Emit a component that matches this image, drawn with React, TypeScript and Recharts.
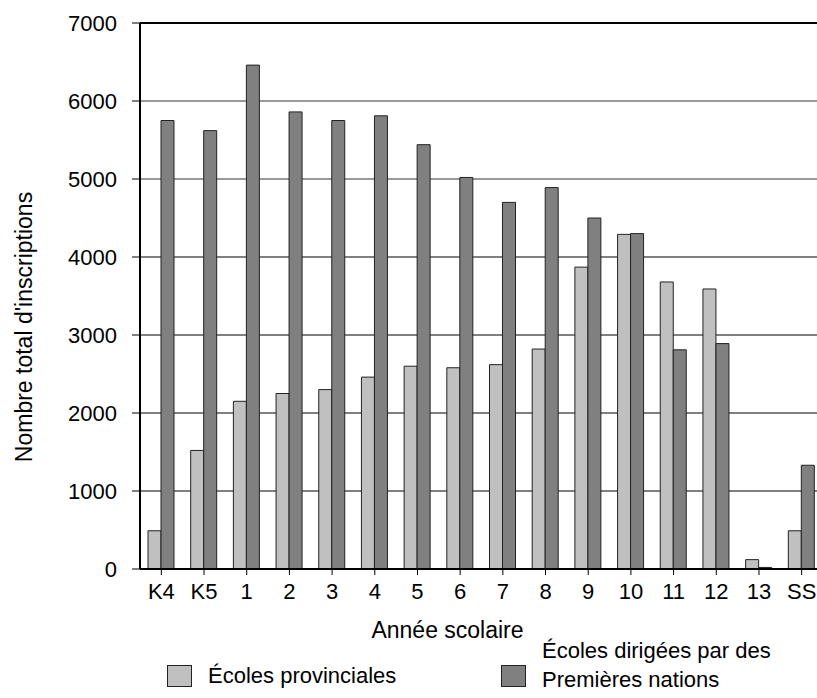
import React from 'react';
import {
  BarChart,
  Bar,
  XAxis,
  YAxis,
  CartesianGrid,
  Legend,
  Label,
} from 'recharts';

// Enrolment by grade level
const grades = ['K4', 'K5', '1', '2', '3', '4', '5', '6', '7', '8', '9', '10', '11', '12', '13', 'SS'];
const provincialSchools = [490, 1520, 2150, 2250, 2300, 2460, 2600, 2580, 2620, 2820, 3870, 4290, 3680, 3590, 120, 490];
const firstNationsSchools = [5750, 5620, 6460, 5860, 5750, 5810, 5440, 5020, 4700, 4890, 4500, 4300, 2810, 2890, 20, 1330];
const yTicks = [0, 1000, 2000, 3000, 4000, 5000, 6000, 7000];

const seriesNames = {
  provincial: 'Écoles provinciales',
  firstNations: 'Écoles dirigées par des Premières nations',
};

const data = grades.map((grade, i) => ({
  grade,
  provincial: provincialSchools[i],
  firstNations: firstNationsSchools[i],
}));

const FONT = '"Liberation Sans", Arial, Helvetica, sans-serif';
const LIGHT = '#c0c0c0';
const DARK = '#808080';

const LEGEND_TOP = 600;
const legendSlots: Record<string, any> = {
  provincial: { box: { left: 167, top: 665 }, text: { left: 208, top: 661, width: 300 } },
  firstNations: { box: { left: 501, top: 665 }, text: { left: 542, top: 636, width: 260 } },
};

const LegendContent = ({ payload }: any) => (
  <div style={{ position: 'relative', width: 817, height: 98, fontFamily: FONT, fontSize: 22, color: '#000' }}>
    {(payload || []).map((entry: any) => {
      const slot = legendSlots[entry.dataKey];
      if (!slot) return null;
      return (
        <React.Fragment key={entry.dataKey}>
          <div
            style={{
              position: 'absolute',
              left: slot.box.left,
              top: slot.box.top - LEGEND_TOP,
              width: 25,
              height: 22,
              background: entry.color,
              border: '1.5px solid #222',
              boxSizing: 'border-box',
            }}
          />
          <div
            style={{
              position: 'absolute',
              left: slot.text.left,
              top: slot.text.top - LEGEND_TOP,
              width: slot.text.width,
              lineHeight: '29px',
              whiteSpace: 'normal',
            }}
          >
            {entry.value}
          </div>
        </React.Fragment>
      );
    })}
  </div>
);

const YTitle = () => {
  const cx = 24;
  const cy = 327;
  return (
    <text
      x={cx}
      y={cy}
      transform={`rotate(-90, ${cx}, ${cy})`}
      textAnchor="middle"
      dominantBaseline="central"
      fontFamily={FONT}
      fontSize={23}
      fill="#000"
    >
      Nombre total d'inscriptions
    </text>
  );
};

const XTitle = ({ viewBox }: any) => (
  <text
    x={viewBox.x + 307.5}
    y={viewBox.y + 69}
    textAnchor="middle"
    fontFamily={FONT}
    fontSize={23}
    fill="#000"
  >
    Année scolaire
  </text>
);

export default function App() {
  return (
    <div style={{ position: 'absolute', left: 0, top: 0, width: 817, height: 698, overflow: 'hidden', background: '#fff' }}>
      <BarChart
        width={830}
        height={698}
        data={data}
        margin={{ top: 23, right: 7, bottom: 0, left: 0 }}
        barGap={0}
        barSize={13}
      >
        <CartesianGrid vertical={false} horizontalValues={[1000, 2000, 3000, 4000]} stroke="#000" strokeWidth={1} />
        <CartesianGrid vertical={false} horizontalValues={[5000, 6000]} stroke="#777" strokeWidth={1.5} />
        <CartesianGrid vertical={false} horizontalValues={[7000]} stroke="#000" strokeWidth={2} />
        <XAxis
          dataKey="grade"
          interval={0}
          height={129}
          tickSize={6}
          tickMargin={8}
          axisLine={{ stroke: '#000', strokeWidth: 2 }}
          tickLine={{ stroke: '#000', strokeWidth: 1 }}
          tick={{ fill: '#000', fontSize: 22, fontFamily: FONT }}
        >
          <Label content={<XTitle />} />
        </XAxis>
        <YAxis
          width={140}
          domain={[0, 7000]}
          ticks={yTicks}
          interval={0}
          tickSize={8}
          tickMargin={15}
          axisLine={{ stroke: '#000', strokeWidth: 2 }}
          tickLine={{ stroke: '#000', strokeWidth: 1 }}
          tick={{ fill: '#000', fontSize: 22, fontFamily: FONT }}
        >
          <Label content={<YTitle />} />
        </YAxis>
        <Legend
          layout="horizontal"
          verticalAlign="middle"
          align="center"
          wrapperStyle={{ top: LEGEND_TOP, left: 0, width: 817 }}
          content={<LegendContent />}
        />
        <Bar
          dataKey="provincial"
          name={seriesNames.provincial}
          fill={LIGHT}
          stroke="#222"
          strokeWidth={1}
          isAnimationActive={false}
        />
        <Bar
          dataKey="firstNations"
          name={seriesNames.firstNations}
          fill={DARK}
          stroke="#222"
          strokeWidth={1}
          isAnimationActive={false}
        />
      </BarChart>
    </div>
  );
}
